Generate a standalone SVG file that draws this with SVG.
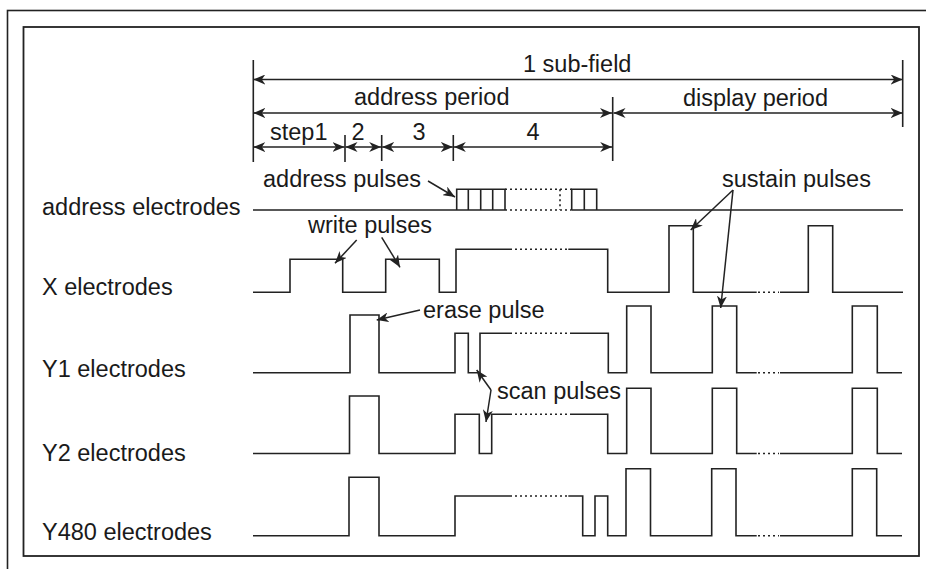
<svg xmlns="http://www.w3.org/2000/svg" width="926" height="569" viewBox="0 0 926 569">
<style>
  text { font-family: "Liberation Sans", Arial, sans-serif; font-size: 23.5px; fill: #1a1a1a; }
  .w { fill: none; stroke: #222; stroke-width: 1.6; }
  .dot { fill: none; stroke: #222; stroke-width: 1.6; stroke-dasharray: 2 3; }
  .dim { fill: none; stroke: #222; stroke-width: 1.6; marker-start: url(#ah); marker-end: url(#ah); }
  .tick { stroke: #222; stroke-width: 1.6; }
  .ann { fill: none; stroke: #222; stroke-width: 1.5; marker-end: url(#ah2); }
</style>
<defs>
  <marker id="ah" viewBox="0 0 12 10" refX="12" refY="5" markerWidth="12" markerHeight="10" markerUnits="userSpaceOnUse" orient="auto-start-reverse">
    <path d="M0,0 L12,5 L0,10 L3.5,5 z" fill="#222"/>
  </marker>
  <marker id="ah2" viewBox="0 0 12 10" refX="12" refY="5" markerWidth="12" markerHeight="10" markerUnits="userSpaceOnUse" orient="auto-start-reverse">
    <path d="M0,0 L12,5 L0,10 L3.5,5 z" fill="#222"/>
  </marker>
</defs>
<rect width="926" height="569" fill="#ffffff"/>
<g id="frame" fill="none" stroke="#222">
  <rect x="7.5" y="10.5" width="940" height="580" stroke-width="1.6"/>
  <rect x="23.5" y="27" width="895.5" height="529" stroke-width="1.8"/>
</g>
<g id="dimensions">
  <line class="tick" x1="253.3" y1="60" x2="253.3" y2="162"/>
  <line class="tick" x1="345" y1="135" x2="345" y2="162"/>
  <line class="tick" x1="381.7" y1="135" x2="381.7" y2="161"/>
  <line class="tick" x1="453.3" y1="135" x2="453.3" y2="161"/>
  <line class="tick" x1="612.7" y1="97" x2="612.7" y2="161"/>
  <line class="tick" x1="902.7" y1="60" x2="902.7" y2="127"/>
  <path class="dim" d="M253.3,79.5 H902.7"/>
  <path class="dim" d="M253.3,113 H612"/>
  <path class="dim" d="M613.5,113 H902.7"/>
  <path class="dim" d="M253.3,147 H344.5"/>
  <path class="dim" d="M345.5,147 H381.2"/>
  <path class="dim" d="M382.2,147 H452.8"/>
  <path class="dim" d="M453.8,147 H612.2"/>
  <text x="523" y="72">1 sub-field</text>
  <text x="354" y="105">address period</text>
  <text x="683" y="106">display period</text>
  <text x="270" y="140">step1</text>
  <text x="358" y="140" text-anchor="middle">2</text>
  <text x="419" y="140" text-anchor="middle">3</text>
  <text x="533" y="140" text-anchor="middle">4</text>
</g>
<g id="address-electrodes">
  <text x="42" y="215">address electrodes</text>
  <path class="w" d="M253,210 H505 M571.7,210 H903"/>
  <path class="w" d="M456.7,210 V189.3 H505 V210 M468.3,189.3 V210 M480.7,189.3 V210 M492.7,189.3 V210"/>
  <path class="w" d="M571.7,210 V189.3 H596.7 V210 M584.3,189.3 V210"/>
  <path class="dot" d="M505,189.3 H571.7 M505,210 H571.7 M560,189.3 V210"/>
</g>
<g id="x-electrodes">
  <text x="42" y="295">X electrodes</text>
  <path class="w" d="M253,292.3 H290 V259.3 H342.7 V292.3 H385.7 V259.3 H439.3 V292.3 H456 V249.3 H510 M568.3,249.3 H607.7 V292.3 H669 V225.7 H693.3 V292.3 H756.7 M780,292.3 H808.3 V225.7 H832.7 V292.3 H903"/>
  <path class="dot" d="M510,249.3 H568.3 M758,292.3 H779"/>
</g>
<g id="y1-electrodes">
  <text x="42" y="377">Y1 electrodes</text>
  <path class="w" d="M253,372.7 H350 V315 H379 V372.7 H455 V333.3 H468.3 V372.7 H480 V333.3 H510 M570,333.3 H608.3 V372.7 H626.7 V306 H651 V372.7 H712.3 V306 H736.7 V372.7 H756.7 M780,372.7 H852.3 V306 H877.3 V372.7 H902"/>
  <path class="dot" d="M510,333.3 H570 M758,372.7 H779"/>
</g>
<g id="y2-electrodes">
  <text x="42" y="461">Y2 electrodes</text>
  <path class="w" d="M253,453.5 H349.5 V396 H379 V453.5 H455 V414.3 H479.3 V453.5 H491.7 V414.3 H510 M570,414.3 H607.7 V453.5 H626.7 V388.3 H651 V453.5 H712.3 V388.3 H736.7 V453.5 H756.7 M780,453.5 H852.3 V388.3 H877.3 V453.5 H902"/>
  <path class="dot" d="M510,414.3 H570 M758,453.5 H779"/>
</g>
<g id="y480-electrodes">
  <text x="42" y="540">Y480 electrodes</text>
  <path class="w" d="M253,535.8 H349 V477.3 H379 V535.8 H455 V496 H510 M568.3,496 H582.7 V535.8 H595 V496 H607.7 V535.8 H626 V468.7 H650.5 V535.8 H711.7 V468.7 H736 V535.8 H756.7 M780,535.8 H852.3 V468.7 H876.7 V535.8 H902"/>
  <path class="dot" d="M510,496 H568.3 M758,535.8 H779"/>
</g>
<g id="labels">
  <text x="263" y="187">address pulses</text>
  <text x="308" y="233">write pulses</text>
  <text x="722" y="187">sustain pulses</text>
  <text x="423" y="318">erase pulse</text>
  <text x="497" y="399">scan pulses</text>
</g>
<g id="connectors">
  <path class="ann" d="M428,181 L455,197"/>
  <path class="ann" d="M356.7,240 L335,263.3"/>
  <path class="ann" d="M381.7,237.3 L400,267.3"/>
  <path class="ann" d="M733,190 L690.7,230"/>
  <path class="ann" d="M733,190 L720.7,308"/>
  <path class="ann" d="M420,310 L376.7,320"/>
  <path class="ann" d="M491,390 L476.7,370" />
  <path class="ann" d="M491,390 L486,422"/>
</g>
</svg>
